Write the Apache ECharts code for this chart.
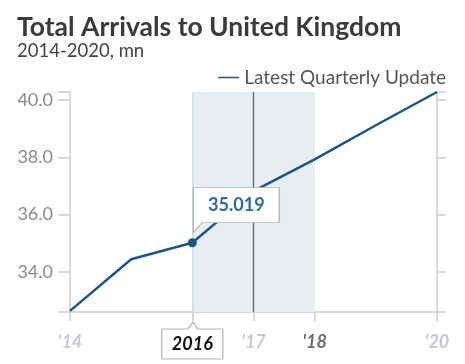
<!DOCTYPE html>
<html><head><meta charset="utf-8">
<script src="https://cdn.jsdelivr.net/npm/echarts@6/dist/echarts.min.js"></script>
<style>html,body{margin:0;padding:0;background:#fff}#c{width:465px;height:364px}</style>
</head><body><div id="c"></div>
<script>
var years = [2014, 2015, 2016, 2017, 2018, 2019, 2020];
var arrivals = [32.64, 34.44, 35.019, 36.82, 37.93, 39.12, 40.28];
var yTickValues = [34, 36, 38, 40];
var xLabelValues = [2014, 2016, 2017, 2018, 2020];
var xLabelText = {2014: "'14", 2017: "'17", 2018: "'18", 2020: "'20"};
var highlightYear = 2016;
var highlightValue = 35.019;
var bandStart = 2016, bandEnd = 2018, latestYear = 2017;
var yMin = 32.6, yMax = 40.28;

var FONT = 'Lato';
var chart = echarts.init(document.getElementById('c'));
var data = years.map(function (y, i) { return [y, arrivals[i]]; });
var hiIdx = years.indexOf(highlightYear);

chart.setOption({
  animation: false,
  textStyle: {fontFamily: FONT},
  title: {
    text: 'Total Arrivals to United Kingdom',
    subtext: '2014-2020, mn',
    left: 12, top: 9, itemGap: 1,
    textStyle: {fontFamily: FONT, fontWeight: 'bold', fontSize: 26.5, color: '#3a3a3a'},
    subtextStyle: {fontFamily: FONT, fontSize: 18.5, color: '#444'}
  },
  legend: {
    right: 14, top: 63,
    itemWidth: 21, itemHeight: 1.6, itemGap: 7,
    icon: 'rect',
    itemStyle: {color: '#3d5a6a'},
    textStyle: {fontFamily: FONT, fontSize: 19, color: '#555'},
    data: ['Latest Quarterly Update']
  },
  grid: {left: 70, right: 28, top: 92, bottom: 52},
  xAxis: {
    type: 'value', min: 2014, max: 2020, interval: 1,
    splitLine: {show: false},
    axisLine: {lineStyle: {color: '#cccccc', width: 1.5}},
    axisTick: {show: true, length: 9, customValues: xLabelValues, lineStyle: {color: '#cccccc', width: 1.5}},
    axisLabel: {
      customValues: xLabelValues, margin: 21,
      formatter: function (v) {
        if (v === 2018) return '{b|' + xLabelText[v] + '}';
        return xLabelText[v] || '';
      },
      fontFamily: FONT, fontSize: 18, fontStyle: 'italic', fontWeight: 'bold', color: '#c5cad2',
      rich: {b: {fontFamily: FONT, fontSize: 18, fontStyle: 'italic', fontWeight: 'bold', color: '#6e6e6e'}}
    }
  },
  yAxis: [{
    type: 'value', min: yMin, max: yMax, position: 'left',
    splitLine: {show: false},
    axisLine: {show: true, lineStyle: {color: '#cccccc', width: 1.5}},
    axisTick: {show: true, length: 12, customValues: [yMin].concat(yTickValues, [yMax]), lineStyle: {color: '#cccccc', width: 1.5}},
    axisLabel: {customValues: yTickValues, margin: 17, formatter: function (v) { return v.toFixed(1); },
      fontFamily: FONT, fontSize: 18, color: '#8a8a8a'}
  }, {
    type: 'value', min: yMin, max: yMax, position: 'right',
    splitLine: {show: false},
    axisLine: {show: true, lineStyle: {color: '#cccccc', width: 1.5}},
    axisTick: {show: true, length: 9, customValues: [yMin].concat(yTickValues, [yMax]), lineStyle: {color: '#cccccc', width: 1.5}},
    axisLabel: {show: false}
  }],
  series: [{
    name: 'Latest Quarterly Update',
    type: 'line',
    data: data,
    color: '#1d5585',
    lineStyle: {width: 2.5, color: '#1d5585'},
    symbol: 'circle', symbolSize: function (v, p) { return p.dataIndex === hiIdx ? 9 : 0; },
    showSymbol: true,
    itemStyle: {color: '#1d5585'},
    z: 5,
    markArea: {
      silent: true, z: 1,
      itemStyle: {color: '#e8edf2'},
      data: [[{xAxis: bandStart}, {xAxis: bandEnd}]]
    },
    markLine: {
      silent: true, symbol: 'none', label: {show: false}, z: 2,
      data: [
        {xAxis: latestYear, lineStyle: {color: '#666', width: 1.3, type: 'solid'}},
        {xAxis: bandStart, lineStyle: {color: '#ccd9e4', width: 1.5, type: 'solid'}}
      ]
    },
    markPoint: {
      silent: true, z: 20,
      data: [{
        coord: [highlightYear, highlightValue],
        symbol: 'path://M0,0 H86 V35 H9 L0,45 Z',
        symbolKeepAspect: false,
        symbolSize: [86, 45],
        symbolOffset: [44, -32.5],
        itemStyle: {color: '#fff', borderColor: '#b5b5b5', borderWidth: 1},
        label: {show: true, formatter: highlightValue.toFixed(3), offset: [0, -5],
          fontFamily: FONT, fontSize: 18, fontWeight: 'bold', color: '#2e6a9e'}
      }, {
        coord: [highlightYear, yMin],
        symbol: 'path://M0,7 H26 L31,0 L36,7 H61 V37 H0 Z',
        symbolKeepAspect: false,
        symbolSize: [61, 37],
        symbolOffset: [0, 28.5],
        itemStyle: {color: '#fff', borderColor: '#b5b5b5', borderWidth: 1},
        label: {show: true, formatter: String(highlightYear), offset: [0, 3.5],
          fontFamily: FONT, fontSize: 18, fontWeight: 'bold', fontStyle: 'italic', color: '#111'}
      }]
    }
  }]
});
</script></body></html>
